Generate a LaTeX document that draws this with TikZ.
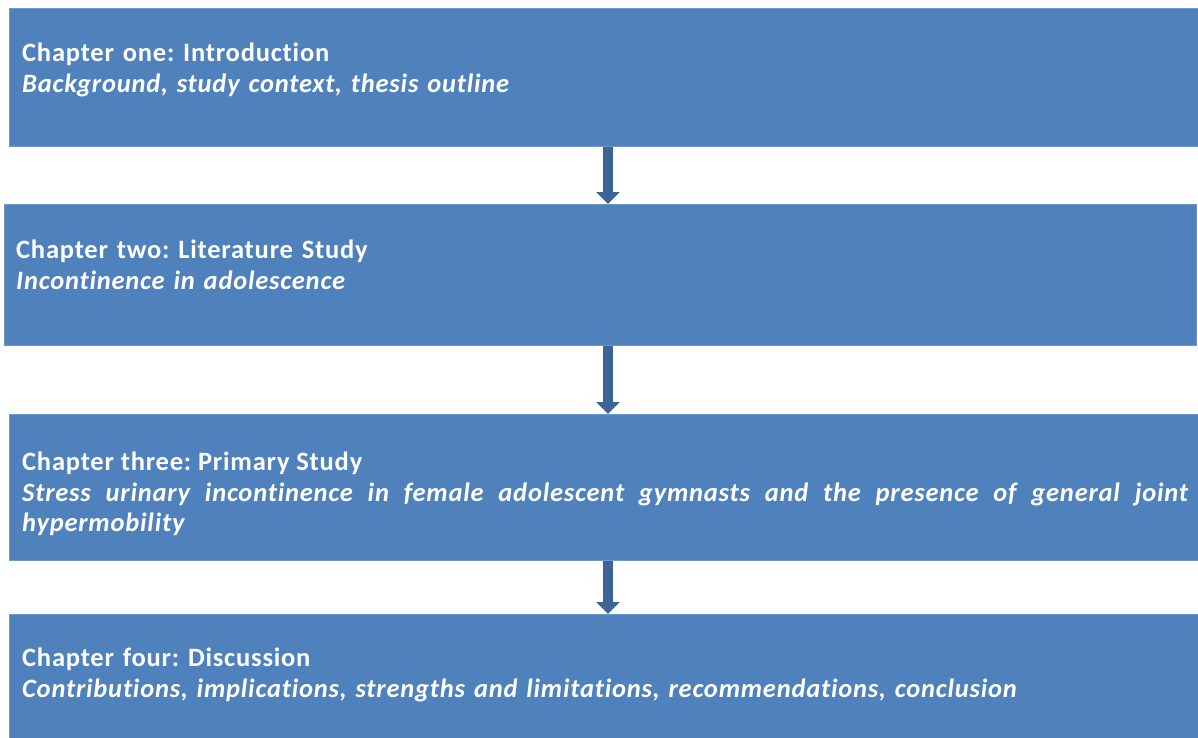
\documentclass[tikz,border=0pt]{standalone}
\usepackage{fontspec}
\setmainfont[Ligatures=NoCommon,LetterSpace=3]{Carlito}
\usetikzlibrary{arrows.meta}

\definecolor{boxBlue}{HTML}{4F81BD}
\definecolor{boxEdge}{HTML}{6F97C8}
\definecolor{arrowBlue}{HTML}{3B6596}

\begin{document}
\frenchspacing
\begin{tikzpicture}[x=1pt,y=-1pt]

% --- Styles ---
\tikzset{
    chapterBox/.style={
        fill=boxBlue,
        draw=boxEdge,
        line width=0.8pt,
        anchor=north west,
        inner sep=0pt
    },
    chapterText/.style={
        anchor=north west,
        inner sep=0pt,
        text width=1166pt,
        align=left,
        text=white,
        font=\fontsize{26.5}{30.5}\selectfont
    },
    flowArrow/.style={
        draw=arrowBlue,
        line width=10pt,
        -{Triangle[width=23pt,length=12pt]}
    }
}

\useasboundingbox (0,0) rectangle (1198,738);

% Boxes
\node[chapterBox, minimum width=1200pt, minimum height=138pt] (introBox) at (9,8) {};
\node[chapterBox, minimum width=1192pt, minimum height=141pt] (litBox) at (4,204) {};
\node[chapterBox, minimum width=1200pt, minimum height=146pt] (primBox) at (9,414) {};
\node[chapterBox, minimum width=1200pt, minimum height=150pt] (discBox) at (9,614) {};

% Texts
\node[chapterText] (introText) at (22,43) {\textbf{Chapter one: Introduction}\\
    \textbf{\textit{Background, study context, thesis outline}}};
\node[chapterText] (litText) at (16,240) {\textbf{Chapter two: Literature Study}\\
    \textbf{\textit{Incontinence in adolescence}}};
\node[chapterText, align=justify] (primText) at (22,452) {\textbf{Chapter three: Primary Study}\\
    \textbf{\textit{Stress urinary incontinence in female adolescent gymnasts and the presence of general joint\linebreak hypermobility}}};
\node[chapterText] (discText) at (22,648) {\textbf{Chapter four: Discussion}\\
    \textbf{\textit{Contributions, implications, strengths and limitations, recommendations, conclusion}}};

% Arrows
\coordinate (spine) at (608,0);
\draw[flowArrow] (introBox.south -| spine) -- (litBox.north -| spine);
\draw[flowArrow] (litBox.south -| spine) -- (primBox.north -| spine);
\draw[flowArrow] (primBox.south -| spine) -- (discBox.north -| spine);

\end{tikzpicture}
\end{document}
